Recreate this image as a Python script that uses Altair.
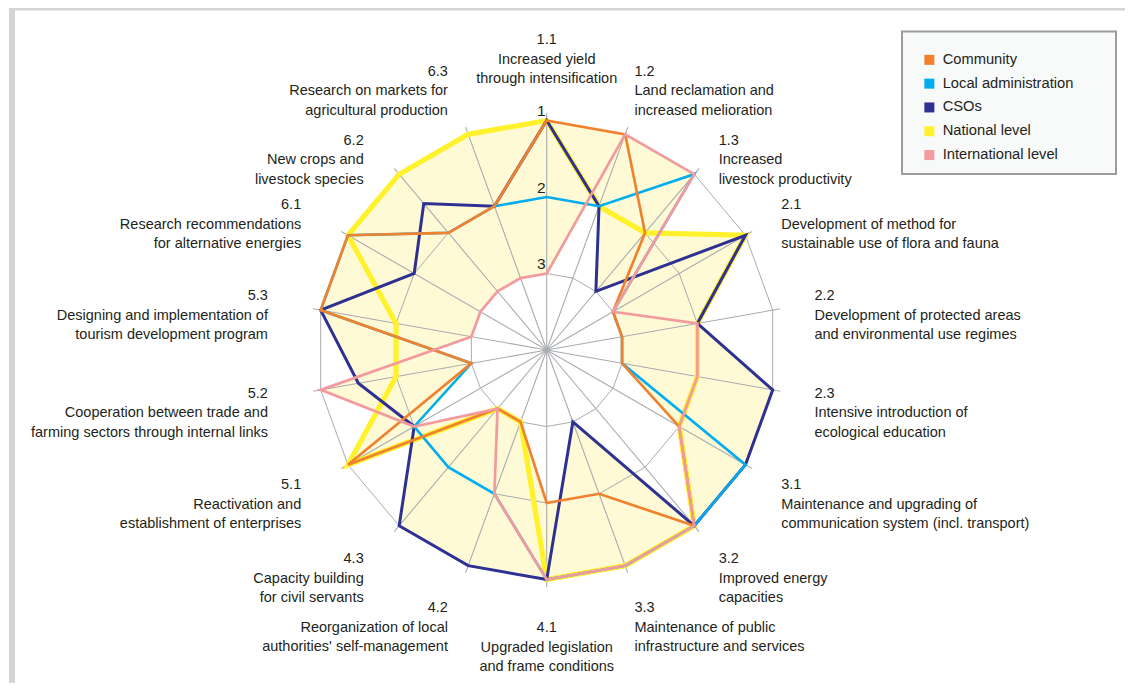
import math
import altair as alt
import pandas as pd

# ---------------- data ----------------
codes = ["1.1", "1.2", "1.3", "2.1", "2.2", "2.3", "3.1", "3.2", "3.3",
         "4.1", "4.2", "4.3", "5.1", "5.2", "5.3", "6.1", "6.2", "6.3"]
descriptions = [
    "Increased yield\nthrough intensification",
    "Land reclamation and\nincreased melioration",
    "Increased\nlivestock productivity",
    "Development of method for\nsustainable use of flora and fauna",
    "Development of protected areas\nand environmental use regimes",
    "Intensive introduction of\necological education",
    "Maintenance and upgrading of\ncommunication system (incl. transport)",
    "Improved energy\ncapacities",
    "Maintenance of public\ninfrastructure and services",
    "Upgraded legislation\nand frame conditions",
    "Reorganization of local\nauthorities' self-management",
    "Capacity building\nfor civil servants",
    "Reactivation and\nestablishment of enterprises",
    "Cooperation between trade and\nfarming sectors through internal links",
    "Designing and implementation of\ntourism development program",
    "Research recommendations\nfor alternative energies",
    "New crops and\nlivestock species",
    "Research on markets for\nagricultural production",
]
series_names = ["Community", "Local administration", "CSOs",
                "National level", "International level"]
community = [1, 1, 2, 3, 3, 3, 2, 1, 2, 2, 3, 3, 1, 3, 1, 1, 2, 2]
local_admin = [2, 2, 1, 3, 3, 3, 1, 1, 1, 1, 2, 2, 2, 3, 1, 1, 2, 2]
csos = [1, 2, 3, 1, 2, 1, 1, 1, 3, 1, 1, 1, 2, 1.5, 1, 2, 1.5, 2]
national = [1, 2, 2, 1, 2, 2, 2, 1, 1, 1, 3, 3, 1, 2, 2, 1, 1, 1]
international = [3, 1, 1, 3, 2, 2, 2, 1, 1, 1, 2, 3, 2, 1, 3, 3, 3, 3]
tick_values = [1, 2, 3]

series_values = [community, local_admin, csos, national, international]
colors = ["#F0822F", "#00AEEF", "#2E3192", "#FFF22D", "#F29A9D"]

# ---------------- layout constants ----------------
W, H = 1117, 675
CX, CY, U = 538.7, 342.0, 76.5     # centre (plot px) and px per rank unit
CENTER_RANK = 4.0
N = len(codes)
STEP = 2 * math.pi / N
FONT = "Liberation Sans"
TXT = "#231F20"
GRID = "#A9ABAE"
FILL = "#FFFAD6"

xs = alt.Scale(domain=[-CX / U, (W - CX) / U], nice=False, zero=False)
ys = alt.Scale(domain=[-(H - CY) / U, CY / U], nice=False, zero=False)
cscale = alt.Scale(domain=series_names, range=colors)

# long table of series values
rows = []
for name, vals in zip(series_names, series_values):
    for i, v in enumerate(vals):
        rows.append({"series": name, "idx": i, "code": codes[i], "rank": v})
df = pd.DataFrame(rows)

pos_calc = dict(
    ang=f"datum.idx * {STEP}",
    rr=f"{CENTER_RANK} - datum.rank",
)
xy_calc = dict(px="datum.rr * sin(datum.ang)", py="datum.rr * cos(datum.ang)")


def placed(chart):
    return chart.transform_calculate(**pos_calc).transform_calculate(**xy_calc)


X = alt.X("px:Q", scale=xs, axis=None)
Y = alt.Y("py:Q", scale=ys, axis=None)

# ---------------- inner (minimum) envelope of all series ----------------
def pt(rank, i):
    a = i * STEP
    r = CENTER_RANK - rank
    return r * math.sin(a), r * math.cos(a)


env = []
for i in range(N):
    j = (i + 1) % N
    a0, a1 = i * STEP, (i + 1) * STEP
    normals = []
    for vals in series_values:
        ax, ay = pt(vals[i], i)
        bx, by = pt(vals[j], j)
        det = ax * by - ay * bx
        normals.append(((by - ay) / det, (ax - bx) / det))
    cands = [a0]
    for s in range(len(normals)):
        for t in range(s + 1, len(normals)):
            dx = normals[s][0] - normals[t][0]
            dy = normals[s][1] - normals[t][1]
            if abs(dx) < 1e-12 and abs(dy) < 1e-12:
                continue
            phi = math.atan2(-dy, dx)
            for k in range(-2, 4):
                p = phi + k * math.pi
                if a0 + 1e-9 < p < a1 - 1e-9:
                    cands.append(p)
    for p in sorted(cands):
        m = max(nx * math.sin(p) + ny * math.cos(p) for nx, ny in normals)
        r = 1.0 / m
        env.append({"ord": len(env), "ex": r * math.sin(p), "ey": r * math.cos(p)})
env_df = pd.DataFrame(env)

# ---------------- layers ----------------
one = pd.DataFrame({"a": [0]})

frame_top = alt.Chart(one).mark_rect(color="#D3D4D6").encode(
    x=alt.value(1), x2=alt.value(W), y=alt.value(0), y2=alt.value(2.5))
frame_left = alt.Chart(one).mark_rect(color="#D3D4D6").encode(
    x=alt.value(1), x2=alt.value(7), y=alt.value(0), y2=alt.value(H))
legend_box = alt.Chart(one).mark_rect(
    fill="#F8F9F9", stroke="#9C9C9C", strokeWidth=2).encode(
    x=alt.value(894), x2=alt.value(1108), y=alt.value(23.5), y2=alt.value(166))

legend_df = pd.DataFrame({"series": series_names, "px": 0.0, "py": 0.0})
legend_marks = alt.Chart(legend_df).mark_square(size=60, filled=True, opacity=1).encode(
    x=X, y=Y,
    color=alt.Color("series:N", scale=cscale, legend=alt.Legend(
        title=None, orient="none", legendX=914, legendY=44.5,
        symbolType="square", symbolSize=100, symbolStrokeWidth=0,
        labelFont=FONT, labelFontSize=14.7, labelColor=TXT,
        labelOffset=6, rowPadding=7.8, padding=0, labelLimit=0)),
)

fills = placed(alt.Chart(df)).mark_line(
    interpolate="linear-closed", fill=FILL, strokeWidth=0, strokeOpacity=0
).encode(x=X, y=Y, detail="series:N", order="idx:Q")

inner_white = alt.Chart(env_df).mark_line(
    interpolate="linear-closed", fill="white", strokeWidth=0, strokeOpacity=0
).encode(x=alt.X("ex:Q", scale=xs, axis=None), y=alt.Y("ey:Q", scale=ys, axis=None),
         order="ord:Q")

ring_rows = [{"rank": t, "idx": i} for t in tick_values for i in range(N)]
rings = placed(alt.Chart(pd.DataFrame(ring_rows))).mark_line(
    interpolate="linear-closed", color=GRID, strokeWidth=1
).encode(x=X, y=Y, detail="rank:N", order="idx:Q")

spoke_df = pd.DataFrame({"idx": list(range(N))})
spokes = alt.Chart(spoke_df).transform_calculate(
    ang=f"datum.idx * {STEP}"
).transform_calculate(
    px="0", py="0",
    qx=f"{CENTER_RANK - 0.9} * sin(datum.ang)", qy=f"{CENTER_RANK - 0.9} * cos(datum.ang)"
).mark_rule(color=GRID, strokeWidth=1.1).encode(
    x=X, y=Y, x2="qx:Q", y2="qy:Q")

draw_order = ["National level", "CSOs", "Local administration", "Community",
              "International level"]
widths = {"National level": 5.2, "CSOs": 3.0, "Local administration": 2.6,
          "Community": 2.7, "International level": 2.7}
line_layers = []
for name in draw_order:
    line_layers.append(
        placed(alt.Chart(df)).transform_filter(alt.datum.series == name).mark_line(
            interpolate="linear-closed", strokeWidth=widths[name], strokeJoin="miter"
        ).encode(x=X, y=Y, order="idx:Q",
                 color=alt.Color("series:N", scale=cscale, legend=None))
    )

tick_df = pd.DataFrame({"rank": tick_values, "idx": 0, "label": [str(t) for t in tick_values]})
tick_text = placed(alt.Chart(tick_df)).mark_text(
    align="right", baseline="bottom", dx=-1, dy=-1.5,
    font=FONT, fontSize=15.5, color=TXT
).encode(x=X, y=Y, text="label:N")

lab_df = pd.DataFrame({"idx": list(range(N)),
                       "label": [c + "\n" + d for c, d in zip(codes, descriptions)]})
LAB_R = 280.0 / U


def label_layer(idxs, align, dx, dy):
    cond = " || ".join(f"datum.idx == {k}" for k in idxs)
    return alt.Chart(lab_df).transform_calculate(
        ang=f"datum.idx * {STEP}"
    ).transform_calculate(
        px=f"{LAB_R} * sin(datum.ang)", py=f"{LAB_R} * cos(datum.ang)"
    ).transform_filter(cond).mark_text(
        align=align, baseline="middle", lineBreak="\n", lineHeight=19.5,
        font=FONT, fontSize=14.5, color=TXT, dx=dx, dy=dy
    ).encode(x=X, y=Y, text="label:N")


half = N // 2
label_layers = [
    label_layer([0], "center", 0, -30),
    label_layer([half], "center", 0, -2),
    label_layer([1], "left", -8, -15),
    label_layer([2], "left", -8, 5),
    label_layer(list(range(3, half)), "left", -8, -5),
    label_layer([N - 1], "right", -3, -15),
    label_layer([N - 2], "right", -3, 5),
    label_layer(list(range(half + 1, N - 2)), "right", -3, -5),
]

chart = alt.layer(
    frame_top, frame_left, legend_box, legend_marks, fills, inner_white,
    rings, spokes, *line_layers, tick_text, *label_layers
).properties(
    width=W, height=H, padding=0, autosize=alt.AutoSizeParams(type="none"),
    background="white"
).configure_view(strokeWidth=0)

chart.save("out.html", embed_options={"renderer": "svg", "actions": False})
